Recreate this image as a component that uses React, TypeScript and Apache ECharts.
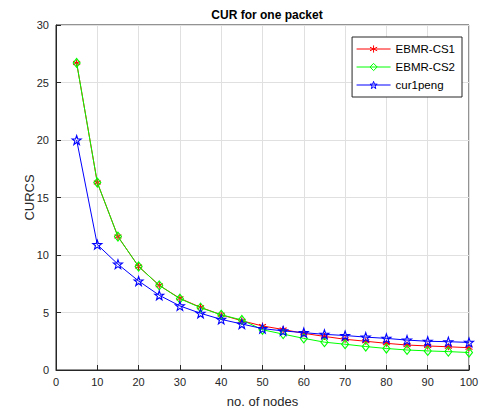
import React, { useEffect, useRef } from "react";
import * as echarts from "echarts";

const nodes = [5, 10, 15, 20, 25, 30, 35, 40, 45, 50, 55, 60, 65, 70, 75, 80, 85, 90, 95, 100];
const ebmrCs1 = [26.7, 16.3, 11.6, 9.0, 7.36, 6.23, 5.45, 4.8, 4.28, 3.83, 3.52, 3.19, 2.92, 2.67, 2.5, 2.32, 2.17, 2.09, 2.02, 1.94];
const ebmrCs2 = [26.7, 16.3, 11.6, 9.0, 7.36, 6.2, 5.42, 4.8, 4.35, 3.5, 3.12, 2.75, 2.42, 2.24, 2.04, 1.87, 1.74, 1.66, 1.6, 1.52];
const cur1peng = [20.0, 10.9, 9.2, 7.74, 6.5, 5.57, 4.93, 4.4, 4.0, 3.6, 3.4, 3.25, 3.1, 3.0, 2.86, 2.75, 2.6, 2.5, 2.46, 2.4];
const seriesNames = ["EBMR-CS1", "EBMR-CS2", "cur1peng"];
const colors = ["#ff0000", "#00ff00", "#0000ff"];

const asterisk = "path://M0,-5L0,5M-4.3,-2.5L4.3,2.5M-4.3,2.5L4.3,-2.5";
const diamond = "path://M0,-10L8,0L0,10L-8,0Z";
const star = "path://M0,-10L2.35,-3.24L9.51,-3.09L3.8,1.24L5.88,8.09L0,4L-5.88,8.09L-3.8,1.24L-9.51,-3.09L-2.35,-3.24Z";

const font = "'Liberation Sans', Arial, Helvetica, sans-serif";
const clear = "rgba(255,255,255,0)";

export default function App() {
  const ref = useRef<HTMLDivElement>(null);
  useEffect(() => {
    const chart = echarts.init(ref.current!, null, { renderer: "svg" });
    const mk = (vals: number[]) => nodes.map((n, i) => [n, vals[i]]);
    const styles = [
      { symbol: asterisk, size: 7, fill: colors[0] },
      { symbol: diamond, size: [7, 9], fill: clear },
      { symbol: star, size: 9, fill: clear },
    ];
    chart.setOption({
      animation: false,
      backgroundColor: "#ffffff",
      textStyle: { fontFamily: font },
      title: {
        text: "CUR for one packet",
        left: 262,
        textAlign: "center",
        top: 4,
        textStyle: { fontSize: 12, fontWeight: "bold", color: "#000", fontFamily: font },
      },
      legend: {
        right: 21,
        top: 37,
        orient: "vertical",
        backgroundColor: "#fff",
        borderColor: "#262626",
        borderWidth: 1,
        borderRadius: 0,
        padding: [6, 7, 6, 4],
        itemGap: 6,
        itemWidth: 34,
        itemHeight: 9,
        lineStyle: { width: 1 },
        textStyle: { fontSize: 11.5, color: "#000", fontFamily: font },
        data: seriesNames.map((n, i) => ({
          name: n,
          itemStyle: { color: styles[i].fill, borderColor: colors[i], borderWidth: 1 },
        })),
      },
      grid: {
        left: 56,
        right: 14,
        top: 25,
        bottom: 44,
        show: true,
        borderColor: "#262626",
        borderWidth: 1,
        backgroundColor: "#fff",
      },
      xAxis: {
        type: "value",
        min: 0,
        max: 100,
        interval: 10,
        name: "no. of nodes",
        nameLocation: "middle",
        nameGap: 25,
        nameMoveOverlap: false,
        nameTextStyle: { fontSize: 13, color: "#262626", fontFamily: font },
        axisLine: { show: true, lineStyle: { color: "#262626" } },
        axisTick: { show: true, inside: true, length: 5, lineStyle: { color: "#262626" } },
        axisLabel: { fontSize: 11, color: "#262626", margin: 6, fontFamily: font },
        splitLine: { show: true, lineStyle: { color: "#e0e0e0", width: 1 } },
      },
      yAxis: {
        type: "value",
        min: 0,
        max: 30,
        interval: 5,
        name: "CURCS",
        nameLocation: "middle",
        nameGap: 20,
        nameMoveOverlap: false,
        nameTextStyle: { fontSize: 13, color: "#262626", fontFamily: font },
        axisLine: { show: true, lineStyle: { color: "#262626" } },
        axisTick: { show: true, inside: true, length: 5, lineStyle: { color: "#262626" } },
        axisLabel: { fontSize: 11, color: "#262626", margin: 7, fontFamily: font },
        splitLine: { show: true, lineStyle: { color: "#e0e0e0", width: 1 } },
      },
      series: [ebmrCs1, ebmrCs2, cur1peng].map((vals, i) => ({
        name: seriesNames[i],
        type: "line",
        data: mk(vals),
        color: colors[i],
        symbol: styles[i].symbol,
        symbolSize: styles[i].size,
        showAllSymbol: true,
        lineStyle: { color: colors[i], width: 1 },
        itemStyle: { color: styles[i].fill, borderColor: colors[i], borderWidth: 1.1 },
        z: 2 + i,
      })),
    });
    return () => chart.dispose();
  }, []);
  return (
    <div
      ref={ref}
      style={{ position: "absolute", left: 0, top: 0, width: 483, height: 414 }}
    />
  );
}
